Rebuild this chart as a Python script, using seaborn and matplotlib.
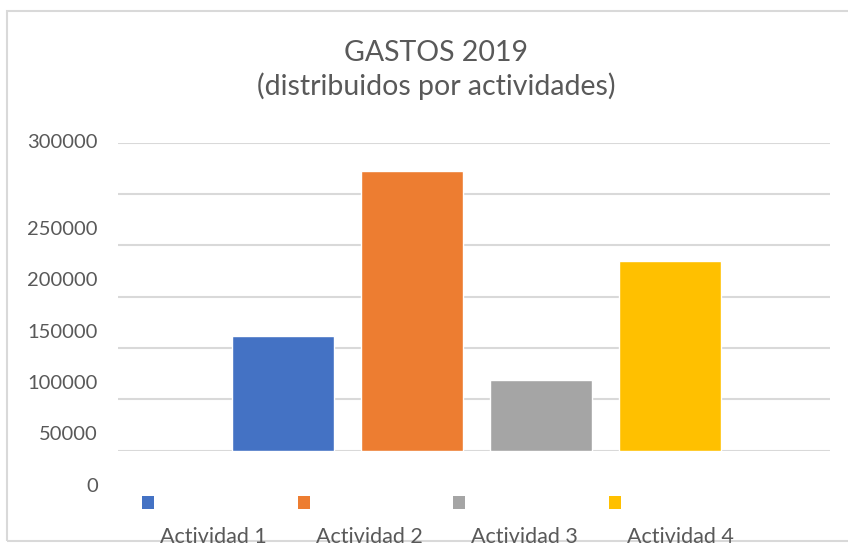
import numpy as np
import pandas as pd
import matplotlib
matplotlib.use("Agg")
import matplotlib.pyplot as plt
import matplotlib.transforms as mtransforms
from matplotlib.patches import Rectangle
import seaborn as sns

# datos
actividades = ["Actividad 1", "Actividad 2", "Actividad 3", "Actividad 4"]
gastos = [111700, 272400, 68900, 184800]
colores = ["#4472C4", "#ED7D31", "#A5A5A5", "#FFC000"]
yticks = [0, 50000, 100000, 150000, 200000, 250000, 300000]

df = pd.DataFrame({"actividad": actividades, "gasto": gastos})

sns.set_style("white")
plt.rcParams['font.family'] = ['Lato', 'DejaVu Sans']
gris = "#595959"

W, H = 848, 546
fig = plt.figure(figsize=(W / 100, H / 100), dpi=100)

# marco del grafico
fig.patches.append(Rectangle((7 / W, 1 - 541 / H), 2, 530 / H, transform=fig.transFigure,
                             fill=False, edgecolor="#d9d9d9", linewidth=1.5))

ax = fig.add_axes([118 / W, 1 - 450.7 / H, 712 / W, 308 / H])
sns.barplot(data=df, x="actividad", y="gasto", hue="actividad", palette=colores,
            width=0.79, saturation=1, legend=False, ax=ax)
ax.set_ylim(0, 300000)
ax.set_xlim(-1.28, 4.24)
ax.set_yticks(yticks)
ax.set_yticklabels([])
ax.set_xticks([])
ax.tick_params(length=0)
ax.yaxis.grid(True, color="#d9d9d9", linewidth=1.5)
ax.set_axisbelow(True)
ax.set_xlabel("")
ax.set_ylabel("")
for s in ax.spines.values():
    s.set_visible(False)

# etiquetas del eje y (desplazadas como en el original)
trans = mtransforms.blended_transform_factory(fig.transFigure, ax.transData)
for v in yticks:
    ypos = v if v == yticks[-1] else v - 34400
    ax.text(98 / W, ypos, str(v), transform=trans, ha="right", va="center",
            fontsize=14.5, color=gris, clip_on=False)

# leyenda
for i, (nombre, c) in enumerate(zip(actividades, colores)):
    x0 = 142 + i * 155.7
    fig.patches.append(Rectangle((x0 / W, 1 - 509 / H), 12 / W, 13 / H,
                                 transform=fig.transFigure, facecolor=c, edgecolor="none"))
    fig.text((x0 + 18) / W, 1 - 537 / H, nombre, ha="left", va="center",
             fontsize=15.5, color=gris)

fig.text(436 / W, 1 - 70 / H, "GASTOS 2019\n(distribuidos por actividades)",
         ha="center", va="center", fontsize=20.5, color=gris, linespacing=1.3)

fig.savefig("out.png", dpi=100)
